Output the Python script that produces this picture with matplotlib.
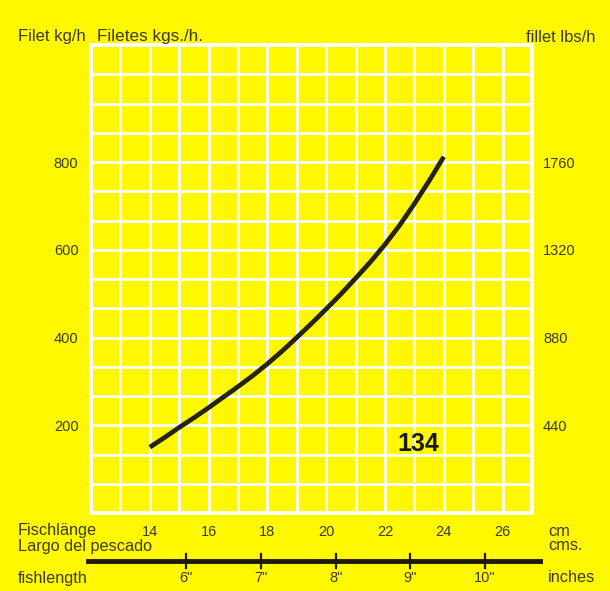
import matplotlib
matplotlib.use("Agg")
import matplotlib.pyplot as plt
from matplotlib.lines import Line2D
import matplotlib.transforms as mtransforms

# ---- data ----
length_cm = [14, 14.5, 15, 15.5, 16, 16.5, 17, 17.5, 18, 18.5, 19, 19.5,
             20, 20.5, 21, 21.5, 22, 22.5, 23, 23.5, 24]
fillet_kg_h = [150, 172, 195, 217, 240, 264, 288, 313, 340, 369, 400, 432,
               465, 499, 535, 572, 612, 656, 705, 757, 812]

kg_ticks = [200, 400, 600, 800]
lbs_ticks = [440, 880, 1320, 1760]
cm_ticks = [14, 16, 18, 20, 22, 24, 26]
inch_ticks = [6, 7, 8, 9, 10]
KG_TO_LBS = 2.2
CM_PER_INCH = 2.54
model_label = "134"

# ---- style ----
YELLOW = "#FFF800"
TXT = "#3a3a30"
W, H = 610, 591
plt.rcParams['font.family'] = ['Liberation Sans', 'DejaVu Sans']

fig = plt.figure(figsize=(W / 100, H / 100), dpi=100, facecolor=YELLOW)

def fx(x):
    return x / W

def fy(y):
    return 1 - y / H

left, right, top, bottom = 91, 532, 45, 513
ax = fig.add_axes([fx(left), fy(bottom), fx(right) - fx(left), fy(top) - fy(bottom)])
ax.set_facecolor(YELLOW)

row = 200 / 3.0
ax.set_xlim(12, 27)
ax.set_ylim(0, 16 * row)

ax.set_xticks(range(12, 28), minor=True)
ax.set_yticks([i * row for i in range(17)], minor=True)
ax.set_xticks(cm_ticks)
ax.set_xticklabels([str(v) for v in cm_ticks])
ax.set_yticks(kg_ticks)
ax.set_yticklabels([str(v) for v in kg_ticks])
ax.grid(which='both', color='white', linewidth=2.0)
ax.set_axisbelow(True)
ax.tick_params(which='both', length=0)
ax.tick_params(axis='y', which='major', labelsize=10.5, labelcolor=TXT, pad=9)
ax.tick_params(axis='x', which='major', labelsize=10.5, labelcolor=TXT, pad=9)
for s in ax.spines.values():
    s.set_color('white')
    s.set_linewidth(2.8)

ax2 = ax.twinx()
ax2.set_ylim(0, 16 * row * KG_TO_LBS)
ax2.set_yticks(lbs_ticks)
ax2.set_yticklabels([str(v) for v in lbs_ticks])
ax2.tick_params(length=0, labelsize=10.5, labelcolor=TXT, pad=8)
for s in ax2.spines.values():
    s.set_visible(False)

ax.plot(length_cm, fillet_kg_h, color='#262410', linewidth=3.4,
        solid_capstyle='butt', solid_joinstyle='round', zorder=5)

ax.text(23.12, 158, model_label, fontsize=18, fontweight='bold', color='#1a1a10',
        ha='center', va='center', zorder=6)

# ---- header texts ----
fig.text(fx(18), fy(37), "Filet kg/h", fontsize=12, color=TXT, ha='left', va='center')
fig.text(fx(97), fy(37), "Filetes kgs./h.", fontsize=12.3, color=TXT, ha='left', va='center')
fig.text(fx(596), fy(37), "fillet lbs/h", fontsize=12, color=TXT, ha='right', va='center')

# ---- bottom texts ----
fs = 11.7
fig.text(fx(18), fy(531), "Fischlänge", fontsize=fs, color=TXT, ha='left', va='center')
fig.text(fx(18), fy(546), "Largo del pescado", fontsize=fs, color=TXT, ha='left', va='center')
fig.text(fx(18), fy(578), "fishlength", fontsize=fs, color=TXT, ha='left', va='center')
fig.text(fx(548), fy(531), "cm", fontsize=fs, color=TXT, ha='left', va='center')
fig.text(fx(548), fy(546), "cms.", fontsize=fs, color=TXT, ha='left', va='center')
fig.text(fx(548), fy(578), "inches", fontsize=fs, color=TXT, ha='left', va='center')

# inch scale bar
fig.add_artist(Line2D([fx(88), fx(540)], [fy(561), fy(561)], color='#1a1a10',
                      linewidth=3.5, transform=fig.transFigure))
blend = mtransforms.blended_transform_factory(ax.transData, fig.transFigure)
for inch in inch_ticks:
    xc = inch * CM_PER_INCH
    fig.add_artist(Line2D([xc, xc], [fy(554), fy(568)], color='#1a1a10',
                          linewidth=1.6, transform=blend))
    fig.text(xc, fy(578), f'{inch}"', fontsize=10.5, color=TXT, ha='center',
             va='center', transform=blend)

fig.savefig("out.png", dpi=100, facecolor=YELLOW)
